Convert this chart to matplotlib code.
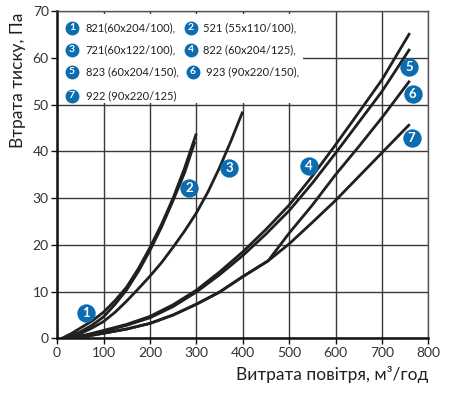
import matplotlib
matplotlib.use("Agg")
import matplotlib.pyplot as plt
from matplotlib.patches import Rectangle

plt.rcParams['font.family'] = ['Lato', 'DejaVu Sans']

# ---- data ----
x_821 = [10, 30, 50, 75, 100, 125, 150, 175, 200, 225, 250, 275, 300]
y_821 = [0, 1.0, 2.2, 3.7, 5.6, 8.1, 11.0, 14.9, 19.4, 24.4, 30.0, 36.5, 43.8]

x_521 = [15, 50, 75, 100, 125, 150, 175, 200, 225, 250, 275, 297]
y_521 = [0, 1.4, 2.8, 4.6, 7.3, 10.4, 14.3, 18.8, 23.8, 29.5, 35.5, 42.1]

x_721 = [20, 50, 75, 100, 125, 150, 175, 200, 225, 250, 275, 300, 325, 350, 375, 400]
y_721 = [0, 1.0, 2.2, 3.6, 5.6, 8.0, 10.6, 13.3, 16.2, 19.5, 23.0, 26.8, 31.3, 36.5, 42.3, 48.5]

x_822 = [20, 60, 100, 150, 200, 250, 300, 350, 400, 450, 500, 550, 600, 650, 700, 760]
y_822 = [0, 0.7, 1.7, 3.0, 4.7, 7.2, 10.3, 14.2, 18.5, 23.3, 28.5, 34.7, 41.4, 48.3, 55.3, 65.3]

x_823 = [20, 60, 100, 150, 200, 250, 300, 350, 400, 450, 500, 550, 600, 650, 700, 760]
y_823 = [0, 0.6, 1.5, 2.8, 4.4, 6.8, 9.9, 13.6, 17.7, 22.3, 27.3, 33.2, 39.6, 46.2, 52.8, 61.9]

x_923 = [20, 60, 100, 150, 200, 250, 300, 350, 400, 455, 500, 550, 600, 650, 700, 760]
y_923 = [0, 0.4, 1.1, 2.0, 3.2, 5.0, 7.3, 9.9, 13.2, 16.6, 22.5, 28.5, 35.0, 41.0, 47.2, 55.1]

x_922 = [20, 60, 100, 150, 200, 250, 300, 350, 400, 455, 500, 550, 600, 650, 700, 760]
y_922 = [0, 0.4, 1.1, 2.0, 3.2, 5.0, 7.3, 9.9, 13.2, 16.6, 20.2, 24.8, 29.5, 34.6, 39.7, 45.8]

series = [(x_821, y_821), (x_521, y_521), (x_721, y_721), (x_822, y_822),
          (x_823, y_823), (x_923, y_923), (x_922, y_922)]

legend_labels = ["821(60x204/100),", "521 (55x110/100),", "721(60x122/100),",
                 "822 (60x204/125),", "823 (60x204/150),", "923 (90x220/150),",
                 "922 (90x220/125)"]

marker_nums = ["1", "2", "3", "4", "5", "6", "7"]
marker_x = [62, 285, 371, 543, 759, 766, 764]
marker_y = [5.4, 32.1, 36.4, 36.9, 58.0, 52.2, 42.8]

x_ticks = [0, 100, 200, 300, 400, 500, 600, 700, 800]
y_ticks = [0, 10, 20, 30, 40, 50, 60, 70]

BLUE = "#0b6cb0"
INK = "#231f20"

# ---- figure ----
fig = plt.figure(figsize=(4.54, 3.96), dpi=100)
ax = fig.add_axes([0.1258, 0.1455, 0.9434 - 0.1258, 0.972 - 0.1455])
ax.set_xlim(0, 800)
ax.set_ylim(0, 70)
ax.set_xticks(x_ticks)
ax.set_yticks(y_ticks)
ax.grid(True, color="#3a3a3a", linewidth=1.0, zorder=0)
ax.set_axisbelow(True)

for s in ["top", "right"]:
    ax.spines[s].set_color("#555555")
    ax.spines[s].set_linewidth(1.0)
for s in ["left", "bottom"]:
    ax.spines[s].set_color("#111111")
    ax.spines[s].set_linewidth(1.8)
ax.tick_params(axis="both", direction="out", length=4, width=1.0,
               color="#111111", labelsize=10, labelcolor="#333333", pad=2)

# white legend box over the grid
ax.add_patch(Rectangle((0, 50.4), 531, 19.0, facecolor="white",
                       edgecolor="none", zorder=1.5))

for (xs, ys) in series:
    ax.plot(xs, ys, color=INK, linewidth=2.0, solid_capstyle="butt",
            solid_joinstyle="round", zorder=3)

# numbered markers on the curves
ax.scatter(marker_x, marker_y, s=175, color=BLUE, zorder=5, linewidths=0)
for n, mx, my in zip(marker_nums, marker_x, marker_y):
    ax.text(mx, my, n, color="white", fontsize=9.5, fontweight="bold",
            ha="center", va="center", zorder=6)

# legend text block
row_y = [66.4, 61.7, 57.0, 51.9]
col_circle_x = [32, 288]
col_text_x = [62, 314]
for i, lab in enumerate(legend_labels):
    r, c = divmod(i, 2)
    cx = col_circle_x[c]
    tx = col_text_x[c]
    if i == 5:
        cx += 4
        tx += 6
    ax.scatter([cx], [row_y[r]], s=100, color=BLUE, zorder=5, linewidths=0)
    ax.text(cx, row_y[r], marker_nums[i], color="white", fontsize=7.5,
            fontweight="bold", ha="center", va="center", zorder=6)
    ax.text(tx, row_y[r], lab, color=INK, fontsize=8, ha="left",
            va="center", zorder=6)

ax.set_ylabel("Втрата тиску, Па", fontsize=12.5, color=INK)
ax.yaxis.set_label_coords(-0.083, 0.79)
ax.set_xlabel("Витрата повітря, м³/год", fontsize=12.5, color=INK)
ax.xaxis.set_label_coords(1.0, -0.085)
ax.xaxis.label.set_horizontalalignment("right")

fig.savefig("out.png", dpi=100)
